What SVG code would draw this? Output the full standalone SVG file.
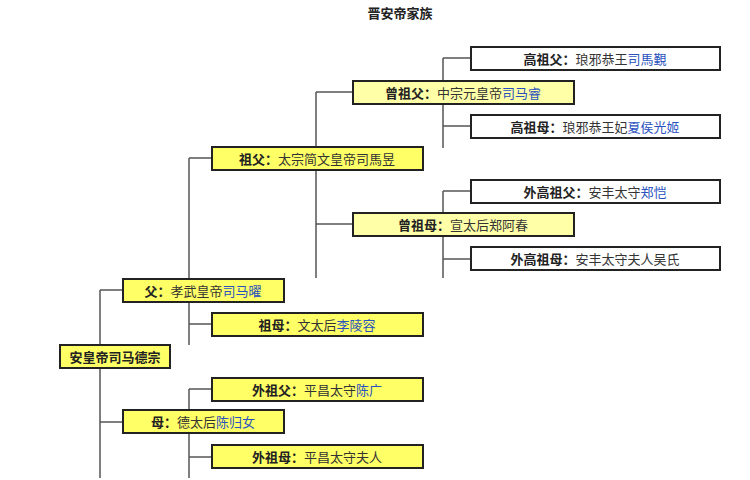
<svg xmlns="http://www.w3.org/2000/svg" width="750" height="480" viewBox="0 0 750 480">
<style>
text{font-family:"Noto Sans CJK SC","Noto Sans",sans-serif;font-size:13px;fill:#333;text-anchor:middle;dominant-baseline:central}
.b{font-weight:bold;fill:#222}
.l{fill:#2a52be}
.n rect{stroke:#222;stroke-width:2}
.w{fill:#fff}.y{fill:#ffff66}.p{fill:#ffffa8}
.c line{stroke:#555;stroke-width:1.5}
</style>
<rect width="750" height="480" fill="#fff"/>
<text x="400" y="12" class="b">晋安帝家族</text>
<g class="c">
<line x1="100" y1="290" x2="100" y2="478"/><line x1="100" y1="290" x2="123" y2="290"/><line x1="100" y1="422" x2="123" y2="422"/>
<line x1="189" y1="158" x2="189" y2="345"/><line x1="189" y1="158" x2="212" y2="158"/><line x1="189" y1="324" x2="212" y2="324"/>
<line x1="189" y1="389" x2="189" y2="478"/><line x1="189" y1="389" x2="212" y2="389"/><line x1="189" y1="457" x2="212" y2="457"/>
<line x1="316" y1="92" x2="316" y2="278"/><line x1="316" y1="92" x2="353" y2="92"/><line x1="316" y1="224" x2="353" y2="224"/>
<line x1="443" y1="58" x2="443" y2="148"/><line x1="443" y1="58" x2="471" y2="58"/><line x1="443" y1="126" x2="471" y2="126"/>
<line x1="443" y1="191" x2="443" y2="278"/><line x1="443" y1="191" x2="471" y2="191"/><line x1="443" y1="259" x2="471" y2="259"/>
</g>
<g id="n1" class="n"><rect class="w" x="471" y="47" width="249" height="23"/><text x="595" y="58"><tspan class="b">高祖父：</tspan>琅邪恭王<tspan class="l">司馬覲</tspan></text></g>
<g id="n2" class="n"><rect class="p" x="353" y="81" width="221" height="23"/><text x="463" y="92"><tspan class="b">曾祖父：</tspan>中宗元皇帝<tspan class="l">司马睿</tspan></text></g>
<g id="n3" class="n"><rect class="w" x="471" y="115" width="249" height="23"/><text x="595" y="126"><tspan class="b">高祖母：</tspan>琅邪恭王妃<tspan class="l">夏侯光姬</tspan></text></g>
<g id="n4" class="n"><rect class="y" x="212" y="147" width="211" height="23"/><text x="317" y="158"><tspan class="b">祖父：</tspan>太宗简文皇帝司馬昱</text></g>
<g id="n5" class="n"><rect class="w" x="471" y="180" width="249" height="23"/><text x="595" y="191"><tspan class="b">外高祖父：</tspan>安丰太守<tspan class="l">郑恺</tspan></text></g>
<g id="n6" class="n"><rect class="p" x="353" y="213" width="221" height="23"/><text x="463" y="224"><tspan class="b">曾祖母：</tspan>宣太后郑阿春</text></g>
<g id="n7" class="n"><rect class="w" x="471" y="247" width="249" height="23"/><text x="595" y="258"><tspan class="b">外高祖母：</tspan>安丰太守夫人吴氏</text></g>
<g id="n8" class="n"><rect class="y" x="123" y="279" width="161" height="23"/><text x="203" y="290"><tspan class="b">父：</tspan>孝武皇帝<tspan class="l">司马曜</tspan></text></g>
<g id="n9" class="n"><rect class="y" x="212" y="313" width="211" height="23"/><text x="317" y="324"><tspan class="b">祖母：</tspan>文太后<tspan class="l">李陵容</tspan></text></g>
<g id="n10" class="n"><rect class="y" x="60" y="345" width="110" height="23"/><text x="115" y="356" class="b">安皇帝司马德宗</text></g>
<g id="n11" class="n"><rect class="y" x="212" y="378" width="211" height="23"/><text x="317" y="389"><tspan class="b">外祖父：</tspan>平昌太守<tspan class="l">陈广</tspan></text></g>
<g id="n12" class="n"><rect class="y" x="123" y="410" width="161" height="23"/><text x="203" y="421"><tspan class="b">母：</tspan>德太后<tspan class="l">陈归女</tspan></text></g>
<g id="n13" class="n"><rect class="y" x="212" y="445" width="211" height="23"/><text x="317" y="456"><tspan class="b">外祖母：</tspan>平昌太守夫人</text></g>
</svg>
